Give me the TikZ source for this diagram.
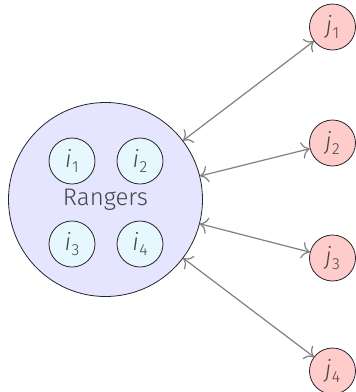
\documentclass[tikz,border=0pt]{standalone}
\usepackage{fontspec}
\setmainfont{Fira Sans}[UprightFont=* Light, ItalicFont=* Light Italic]
\usepackage{xcolor}
\usetikzlibrary{positioning, arrows.meta}

\definecolor{txtgray}{HTML}{454545}
\newcommand{\idx}[2]{\textit{#1}\kern0.3pt\raisebox{-0.45ex}{\footnotesize #2}}

\begin{document}
\begin{tikzpicture}[
    x=0.5pt, y=-0.5pt,
    every node/.style={font=\large, text=txtgray},
    group/.style={circle, draw=black!85, fill=blue!10, minimum size=97pt, inner sep=0pt},
    ranger/.style={circle, draw=black!85, fill=cyan!10, minimum size=23pt, inner sep=0pt},
    target/.style={circle, draw=black!85, fill=red!20, minimum size=23pt, inner sep=0pt},
    link/.style={{To[length=4pt]}-{To[length=4pt]}, gray, semithick},
  ]
  \useasboundingbox (0,0) rectangle (356,392);

  % ---- Rangers group ----
  \node[group] (R) at (105.5,199.5) {Rangers};
  \node[ranger] (i1) at (72,161) {\idx{i}{1}};
  \node[ranger] (i2) at (140,161) {\idx{i}{2}};
  \node[ranger] (i3) at (72,244) {\idx{i}{3}};
  \node[ranger] (i4) at (140,244) {\idx{i}{4}};

  % ---- Targets ----
  \node[target] (j1) at (332.5,27) {\idx{j}{1}};
  \node[target] (j2) at (332.5,143) {\idx{j}{2}};
  \node[target] (j3) at (332.5,258) {\idx{j}{3}};
  \node[target] (j4) at (332.5,371) {\idx{j}{4}};

  % ---- Links ----
  \draw[link] (R) -- (j1);
  \draw[link] (R) -- (j2);
  \draw[link] (R) -- (j3);
  \draw[link] (R) -- (j4);

\end{tikzpicture}
\end{document}
